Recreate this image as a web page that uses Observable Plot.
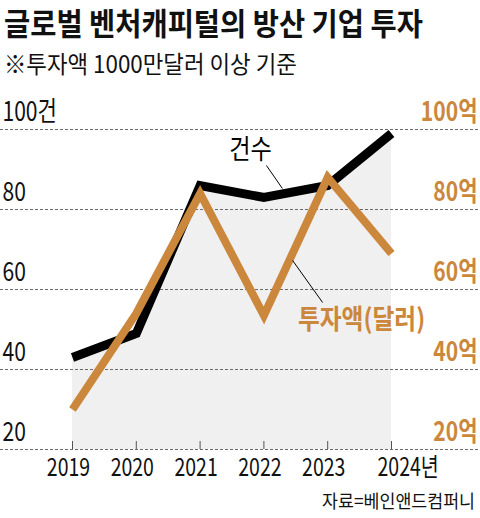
<!DOCTYPE html>
<html><head><meta charset="utf-8">
<script src="https://cdn.jsdelivr.net/npm/d3@7"></script>
<script src="https://cdn.jsdelivr.net/npm/@observablehq/plot@0.6"></script>
<style>
body{margin:0;background:#fff;font-family:"Noto Sans CJK KR","Noto Sans",sans-serif;color:#111;}
#wrap{position:relative;width:480px;height:518px;background:#fff;}
.hdr{position:absolute;left:0;display:block;overflow:visible;}
.hdr text{font-family:"Noto Sans CJK KR","Noto Sans",sans-serif;fill:#111;}
</style></head><body>
<div id="wrap">
<svg class="hdr" style="top:0" width="480" height="44">
  <text data-x="4" data-y="35.2" data-w="419" font-size="30.5" font-weight="700">글로벌 벤처캐피털의 방산 기업 투자</text>
</svg>
<svg class="hdr" style="top:44px" width="480" height="42">
  <text data-x="4" data-y="29.3" data-w="293" font-size="24">※투자액 1000만달러 이상 기준</text>
</svg>
<div id="chart" style="position:absolute;left:0;top:90px;"></div>
<svg class="hdr" style="top:476px" width="480" height="40">
  <text data-x="475" data-y="32" data-w="153" font-size="18.5" text-anchor="end">자료=베인앤드컴퍼니</text>
</svg>
</div>
<script>
// ---- data ----
const years = [2019, 2020, 2021, 2022, 2023, 2024];
const counts = [43, 49, 86, 83, 86, 99];          // 건수
const invest = [30, 54, 84, 53.5, 88, 69];        // 투자액(억 달러)
const yTicks = [20, 40, 60, 80, 100];
const leftLabels = ["20", "40", "60", "80", "100건"];
const rightLabels = ["20억", "40억", "60억", "80억", "100억"];
const yearLabels = ["2019", "2020", "2021", "2022", "2023", "2024년"];

const rows = years.map((y, i) => ({year: y, count: counts[i], invest: invest[i]}));
const ORANGE = "#cb873b";

const chart = Plot.plot({
  width: 480,
  height: 400,
  marginLeft: 72,
  marginRight: 89,
  marginTop: 39,
  marginBottom: 41,
  style: {fontFamily: "'Noto Sans CJK KR','Noto Sans',sans-serif", background: "transparent", overflow: "visible"},
  x: {type: "linear", domain: [2019, 2024], axis: null},
  y: {domain: [20, 100], axis: null},
  marks: [
    Plot.areaY(rows, {x: "year", y1: 20, y2: "count", fill: "#f0f0f0"}),
    Plot.ruleY(yTicks, {stroke: "#6a6a6a", strokeDasharray: "3,2", strokeWidth: 1, insetLeft: -72, insetRight: -89}),
    Plot.ruleX(years, {x: d => d, y1: 20, y2: 22, stroke: "#555", strokeWidth: 1}),
    Plot.line(rows, {x: "year", y: "count", stroke: "#000", strokeWidth: 9, strokeLinejoin: "miter", strokeLinecap: "butt", strokeMiterlimit: 10}),
    Plot.line(rows, {x: "year", y: "invest", stroke: ORANGE, strokeWidth: 8, strokeLinejoin: "miter", strokeLinecap: "butt", strokeMiterlimit: 10}),
    // leader lines
    Plot.link([0], {x1: () => 2022.04, y1: () => 91, x2: () => 2022.29, y2: () => 85.25, stroke: "#000", strokeWidth: 1}),
    Plot.link([0], {x1: () => 2022.45, y1: () => 67.25, x2: () => 2022.92, y2: () => 56.75, stroke: "#000", strokeWidth: 1}),
    // annotations
    Plot.text([0], {x: () => 2021.79, y: () => 94.75, text: () => "건수", fontSize: 27, fill: "#000", textAnchor: "middle", lineAnchor: "middle"}),
    Plot.text([0], {x: () => 2023.53, y: () => 52.25, text: () => "투자액(달러)", fontSize: 27, fontWeight: "bold", fill: ORANGE, textAnchor: "middle", lineAnchor: "middle"}),
    // left axis labels
    Plot.text(yTicks, {y: d => d, text: (d, i) => leftLabels[i], frameAnchor: "left", textAnchor: "start", lineAnchor: "middle", dx: -70, dy: -17, fontSize: 27, fill: "#111"}),
    // right axis labels
    Plot.text(yTicks, {y: d => d, text: (d, i) => rightLabels[i], frameAnchor: "right", textAnchor: "end", lineAnchor: "middle", dx: 86, dy: -17, fontSize: 27, fontWeight: "bold", fill: ORANGE}),
    // x labels
    Plot.text(years.slice(0, 5), {x: d => d, y: () => 20, text: (d, i) => yearLabels[i], textAnchor: "middle", lineAnchor: "middle", dx: -4, dy: 18.5, fontSize: 25, fill: "#111"}),
    Plot.text(years.slice(5), {x: d => d, y: () => 20, text: () => yearLabels[5], textAnchor: "start", lineAnchor: "middle", dx: -14, dy: 18.5, fontSize: 25, fill: "#111"})
  ]
});

// condense SVG text horizontally (the reference uses a narrow typeface)
chart.querySelectorAll("text").forEach(t => {
  const s = t.textContent;
  let k = 0.78;
  if (s.includes("건수")) k = 0.86;
  else if (s.includes("투자액")) k = 0.88;
  let tr = t.getAttribute("transform");
  if (!tr) {
    const x = t.getAttribute("x") || 0, y = t.getAttribute("y") || 0;
    t.removeAttribute("x"); t.removeAttribute("y");
    tr = `translate(${x},${y})`;
  }
  t.setAttribute("transform", tr + ` scale(${k},1)`);
});
document.getElementById("chart").appendChild(chart);

// header / caption texts: condense to the reference widths
document.querySelectorAll(".hdr text").forEach(t => {
  const w = t.getComputedTextLength() || 1;
  const k = (+t.dataset.w) / w;
  t.setAttribute("transform", `translate(${t.dataset.x},${t.dataset.y}) scale(${k},1)`);
});
</script>
</body></html>
